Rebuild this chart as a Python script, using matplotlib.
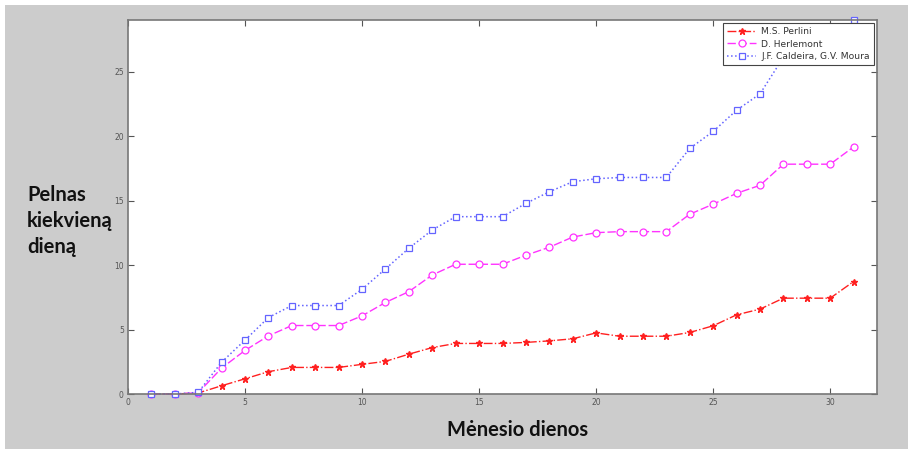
import matplotlib
matplotlib.use("Agg")
import matplotlib.pyplot as plt
from matplotlib.patches import Rectangle

days = list(range(1, 32))
perlini = [0, 0, 0.08, 0.64, 1.18, 1.73, 2.06, 2.06, 2.06, 2.3, 2.53,
           3.09, 3.6, 3.92, 3.92, 3.92, 4.0, 4.12, 4.28, 4.74, 4.48,
           4.48, 4.48, 4.77, 5.29, 6.14, 6.58, 7.43, 7.43, 7.43, 8.72]
herlemont = [0, 0, 0.1, 2.01, 3.38, 4.51, 5.31, 5.31, 5.31, 6.06, 7.1,
             7.94, 9.23, 10.06, 10.06, 10.06, 10.76, 11.38, 12.17, 12.51, 12.59,
             12.59, 12.59, 13.94, 14.72, 15.56, 16.18, 17.82, 17.82, 17.82, 19.16]
caldeira = [0, 0, 0.13, 2.47, 4.18, 5.93, 6.86, 6.86, 6.86, 8.12, 9.7,
            11.3, 12.72, 13.75, 13.75, 13.75, 14.78, 15.68, 16.46, 16.69, 16.79,
            16.79, 16.79, 19.04, 20.36, 22.0, 23.27, 26.1, 26.1, 26.1, 29.0]
labels = ["M.S. Perlini", "D. Herlemont", "J.F. Caldeira, G.V. Moura"]
xticks = [0, 5, 10, 15, 20, 25, 30]
yticks = [0, 5, 10, 15, 20, 25]

W, H = 908, 449
fig = plt.figure(figsize=(W / 100, H / 100), dpi=100)
fig.patch.set_facecolor("white")
fig.patches.append(Rectangle((5 / W, 0), 1 - 5 / W, 1 - 5 / H,
                             transform=fig.transFigure, facecolor="#cccccc",
                             edgecolor="none", zorder=-10))

ax = fig.add_axes([128 / W, 1 - 394 / H, (877 - 128) / W, (394 - 20) / H])
ax.set_facecolor("white")

ax.plot(days, perlini, linestyle="-.", color="#ff2020", marker="*", markersize=4.5,
        linewidth=1, label=labels[0], clip_on=False)
ax.plot(days, herlemont, linestyle=(0, (6, 2)), color="#ff33ff", marker="o", markersize=5,
        markerfacecolor="white", markeredgewidth=0.9, linewidth=1, label=labels[1], clip_on=False)
ax.plot(days, caldeira, linestyle=":", color="#6464ff", marker="s", markersize=5,
        markerfacecolor="white", markeredgewidth=0.9, linewidth=1.1, label=labels[2], clip_on=False)

ax.set_xlim(0, 32)
ax.set_ylim(0, 29)
ax.set_xticks(xticks)
ax.set_yticks(yticks)
ax.tick_params(direction="in", length=4, width=0.8, color="#555555",
               labelsize=5.5, labelcolor="#555555", top=True, right=True, pad=3)
for s in ax.spines.values():
    s.set_color("#777777")
    s.set_linewidth(1.2)

leg = ax.legend(loc="upper right", fontsize=6.6, frameon=True, fancybox=False,
                borderaxespad=0.3, handlelength=3.2, labelspacing=0.35,
                borderpad=0.5, handletextpad=0.5)
leg.get_frame().set_edgecolor("#444444")
leg.get_frame().set_linewidth(0.8)
leg.get_frame().set_alpha(1)
leg.set_zorder(10)
for t in leg.get_texts():
    t.set_color("#333333")

fig.text(27 / W, 1 - 221 / H, "Pelnas\nkiekvieną\ndieną", family="Lato",
         fontweight="bold", fontsize=14.5, ha="left", va="center",
         linespacing=1.35, color="#111111")
fig.text(518 / W, 1 - 430 / H, "Mėnesio dienos", family="Lato",
         fontweight="bold", fontsize=14.5, ha="center", va="center", color="#111111")

fig.savefig("out.png", dpi=100, facecolor=fig.get_facecolor())
